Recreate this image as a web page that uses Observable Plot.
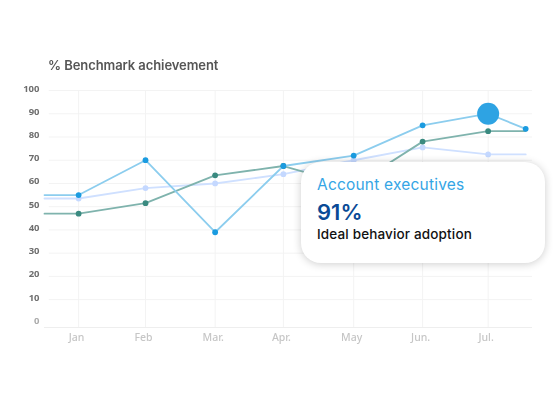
<!DOCTYPE html>
<html><head><meta charset="utf-8">
<script src="https://cdn.jsdelivr.net/npm/d3@7"></script>
<script src="https://cdn.jsdelivr.net/npm/@observablehq/plot@0.6"></script>
<style>
html,body{margin:0;padding:0;background:#fff;width:560px;height:406px;overflow:hidden}
#wrap{position:relative;width:560px;height:406px;font-family:Inter,"Noto Sans",sans-serif}
#chart{position:absolute;left:0;top:0}
#chart svg{display:block;filter:blur(.5px)}
#title{position:absolute;left:48px;top:56px;font-size:13px;font-weight:600;color:#555;white-space:nowrap;filter:blur(.35px);line-height:18px;letter-spacing:-.08px}
#card{position:absolute;left:301px;top:162px;width:244px;height:101px;background:#fff;border-radius:20px;box-shadow:0 1px 9px rgba(0,0,0,.2);box-sizing:border-box}
#card div{position:absolute;left:16px;white-space:nowrap}
#c1{top:13px;font-size:15.5px;font-weight:400;color:#35a5e5;line-height:20px;letter-spacing:.2px}
#c2{top:36px;font-size:22px;font-weight:600;color:#0a4a96;line-height:28px}
#c3{top:63px;font-size:13.5px;font-weight:500;color:#111;line-height:18px;letter-spacing:.15px}
</style></head><body>
<div id="wrap"><div id="chart"></div>
<div id="title">% Benchmark achievement</div>
<div id="card"><div id="c1">Account executives</div><div id="c2">91%</div><div id="c3">Ideal behavior adoption</div></div>
</div>
<script>
const months = ["Jan","Feb","Mar.","Apr.","May","Jun.","Jul."];
const monthPos = [0,0.98,2,3,4.03,5.04,6];
const linePos = [-0.5,0,0.98,2,3,4.03,5.04,6,6.55];
const blueValues = [55,55,70,39,67.5,72,85,90,83.5];
const lightValues = [53.5,53.5,58,60,64,70,75.5,72.5,72.5];
const tealValues = [47,47,51.5,63.5,67.5,59,78,82.5,82.5];
const yTicks = [0,10,20,30,40,50,60,70,80,90,100];
const gridTicks = [10,20,30,40,50,60,70,80,90,100];
const highlightPos = [6];
const highlightValue = [90];
const blueEndPos = [6.55];
const blueEndValue = [83.5];

const rows = v => linePos.map((x,i)=>({x,y:v[i]}));
const dots = v => rows(v).slice(1,-1);
const series = [[lightValues,"#cfe0ff","#c4d8ff",1.9],[tealValues,"#7fb3ad","#3a8a80",1.8],[blueValues,"#8ccdee","#1a9be0",1.8]];

const chart = Plot.plot({
  width:560,height:406,marginLeft:44,marginRight:28,marginTop:90,marginBottom:79,
  style:{background:"transparent"},
  x:{type:"linear",domain:[-0.5,6.65]},
  y:{type:"linear",domain:[-2,100]},
  marks:[
    Plot.ruleY(gridTicks,{x1:-0.43,x2:6.65,stroke:"#f3f3f3",strokeWidth:1}),
    Plot.ruleX(monthPos,{y1:-2,y2:100,stroke:"#f3f3f3",strokeWidth:1}),
    Plot.ruleY([-2],{stroke:"#eeeeee",strokeWidth:1}),
    ...series.flatMap(([v,l,d,w])=>[
      Plot.line(rows(v),{x:"x",y:"y",stroke:l,strokeWidth:w}),
      Plot.dot(dots(v),{x:"x",y:"y",fill:d,r:2.9})
    ]),
    Plot.dot(blueEndPos.map((x,i)=>({x,y:blueEndValue[i]})),{x:"x",y:"y",fill:"#1a9be0",r:2.9}),
    Plot.dot(highlightPos.map((x,i)=>({x,y:highlightValue[i]})),{x:"x",y:"y",fill:"#2ea3e3",r:11}),
    Plot.axisY(yTicks.filter(d=>d>0),{tickSize:0,tickPadding:5,label:null,fontSize:9.5,fontWeight:700,color:"#6e6e6e",dy:-2,marginLeft:44}),
    Plot.axisY([0],{tickSize:0,tickPadding:5,label:null,fontSize:9.5,fontWeight:700,color:"#ababab",dy:-2,marginLeft:44}),
    Plot.axisX(monthPos,{tickSize:0,tickPadding:5,label:null,fontSize:10.5,fontWeight:500,color:"#c6c6c6",dx:-2,dy:1,tickFormat:d=>months[monthPos.indexOf(d)]})
  ]
});
document.getElementById("chart").appendChild(chart);
</script>
</body></html>
